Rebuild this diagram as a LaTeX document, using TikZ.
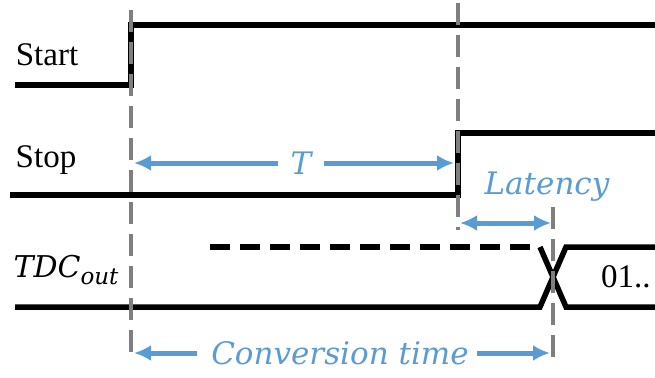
\documentclass[tikz,border=0pt]{standalone}
\usepackage{fontspec}
\setmainfont{Liberation Serif}
\newfontfamily\labfont{DejaVu Serif}
\usetikzlibrary{arrows.meta}
\definecolor{tblue}{HTML}{5B9BD5}
\definecolor{tgray}{HTML}{7F7F7F}
\begin{document}
\begin{tikzpicture}[x=1pt,y=-1pt,
  sig/.style={line width=5.5pt},
  sigdash/.style={line width=5.5pt,dash pattern=on 20pt off 10pt},
  guide/.style={tgray,line width=4.5pt,dash pattern=on 22pt off 10pt},
  meas/.style={tblue,line width=5pt,-{Latex[length=17pt,width=16pt]}},
  signame/.style={font=\fontsize{33}{36}\selectfont,inner sep=0pt},
  lab/.style={tblue,font=\labfont\itshape\fontsize{31}{34}\selectfont,inner sep=0pt}]
\useasboundingbox (0,0) rectangle (655,377);
\clip (0,0) rectangle (655,377);
% signals
\draw[sig] (15,85) -- (131,85) -- (131,25) -- (660,25);
\draw[sig] (10,195) -- (458,195) -- (458,133) -- (660,133);
\draw[sig] (15,307) -- (540,307) -- (566,247) -- (660,247);
\draw[sigdash] (210,247) -- (540,247);
\draw[sig] (540,247) -- (566,307) -- (660,307);
% guides
\coordinate (g1t) at (131,10);  \coordinate (g1b) at (131,358);
\coordinate (g2t) at (458,3);   \coordinate (g2b) at (458,230);
\coordinate (g3t) at (553,207); \coordinate (g3b) at (553,357);
\draw[guide] (g1t) -- (g1b);
\draw[guide] (g2t) -- (g2b);
\draw[guide] (g3t) -- (g3b);
% labels
\node[signame] (start) at (47,55) {Start};
\node[signame] (stop) at (46,160) {Stop};
\node[inner sep=0pt,font=\labfont\itshape\fontsize{30}{33}\selectfont] (tdc) at (66,270)
  {TDC\raisebox{-0.4ex}{\fontsize{23}{25}\selectfont out}};
\node[signame,anchor=west] (val) at (601,277) {01..};
\node[lab] (T) at (301,163) {T};
\node[lab] (lat) at (547,187) {Latency};
\node[lab] (conv) at (340,353) {Conversion time};
% measurement arrows
\coordinate (tL) at (134,163); \coordinate (tR) at (454,163);
\draw[meas] (T.west) ++(-12pt,0) -- (tL);
\draw[meas] (T.east) ++(12pt,0) -- (tR);
\coordinate (lL) at (460,223); \coordinate (lR) at (551,223);
\draw[meas,{Latex[length=17pt,width=16pt]}-{Latex[length=17pt,width=16pt]}] (lL) -- (lR);
\coordinate (cL) at (134,353); \coordinate (cR) at (550,353);
\draw[meas] (conv.west) ++(-14pt,0) -- (cL);
\draw[meas] (conv.east) ++(8pt,0) -- (cR);
\end{tikzpicture}
\end{document}
